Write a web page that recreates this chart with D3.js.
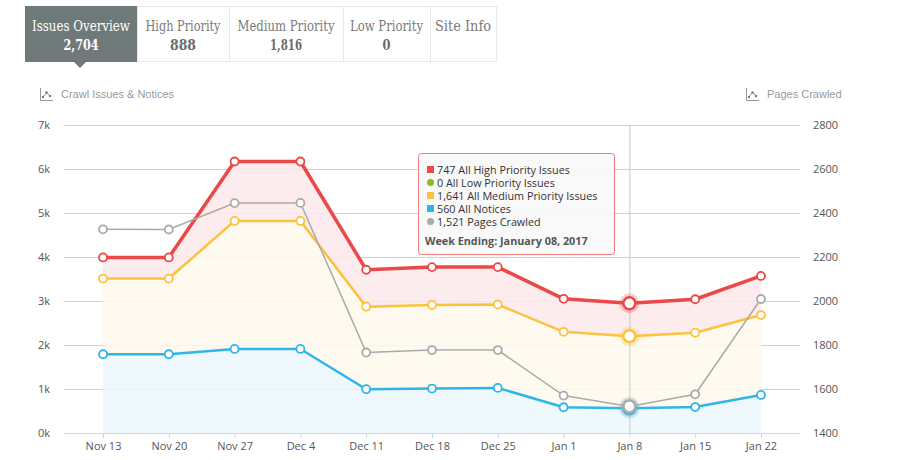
<!DOCTYPE html>
<meta charset="utf-8">
<script src="https://d3js.org/d3.v7.min.js"></script>
<style>
  body { margin: 0; background: #fff; }
  svg text { font-family: "Open Sans", sans-serif; }
</style>
<div id="chart"></div>
<script>

// weekly categories
var weeks = ["Nov 13", "Nov 20", "Nov 27", "Dec 4", "Dec 11", "Dec 18", "Dec 25", "Jan 1", "Jan 8", "Jan 15", "Jan 22"];

// stacked series
var notices = [1790, 1790, 1910, 1910, 995, 1010, 1025, 585, 560, 590, 865];
var medium  = [1720, 1720, 2910, 2910, 1875, 1900, 1895, 1715, 1641, 1690, 1816];
var low     = [0, 0, 0, 0, 0, 0, 0, 0, 0, 0, 0];
var high    = [480, 480, 1350, 1350, 840, 860, 850, 750, 747, 760, 888];

// right axis series
var pages = [2326, 2325, 2445, 2446, 1766, 1777, 1777, 1570, 1521, 1576, 2009];

var leftTicks = [0, 1000, 2000, 3000, 4000, 5000, 6000, 7000];
var rightTicks = [1400, 1600, 1800, 2000, 2200, 2400, 2600, 2800];

var tabNames = ["Issues Overview", "High Priority", "Medium Priority", "Low Priority", "Site Info"];
var hoverIndex = 8;
var hoverLabel = "Week Ending: January 08, 2017";

var width = 900, height = 460;
var svg = d3.select("#chart").append("svg")
  .attr("width", width).attr("height", height);

var fmt = d3.format(",");
var last = weeks.length - 1;

// ---- tabs ----
var tabEdges = [25, 137, 229, 343, 430, 496];
var tabValues = [high[last] + medium[last] + low[last], high[last], medium[last], low[last], null];
var slab = "'DejaVu Serif', serif";

// squeeze a text into a width if it is wider than that
function fit(sel, w) {
  var n = sel.node();
  if (n.getComputedTextLength() > w) {
    sel.attr("textLength", w).attr("lengthAdjust", "spacingAndGlyphs");
  }
}
var titleW = [98, 75, 97, 73, 56];
var numW = [35, 26, 32, 8];

var tabs = svg.append("g");
tabNames.forEach(function(name, i) {
  var x0 = tabEdges[i], x1 = tabEdges[i + 1], cx = (x0 + x1) / 2;
  var active = i === 0;
  tabs.append("rect")
    .attr("x", x0 + 0.5).attr("y", 6.5)
    .attr("width", x1 - x0).attr("height", 55)
    .attr("fill", active ? "#6f7979" : "#fff")
    .attr("stroke", active ? "#6f7979" : "#e6e9ea");
  var t = tabs.append("text")
    .attr("x", cx).attr("y", 30.5)
    .attr("text-anchor", "middle")
    .style("font-family", slab)
    .style("font-size", "15px")
    .attr("fill", active ? "#fff" : "#7a7a7a")
    .text(name);
  fit(t, titleW[i]);
  if (tabValues[i] !== null) {
    var v = tabs.append("text")
      .attr("x", cx).attr("y", 49.5)
      .attr("text-anchor", "middle")
      .style("font-family", slab)
      .style("font-weight", "bold")
      .style("font-size", "15px")
      .attr("fill", active ? "#fff" : "#6b6b6b")
      .text(fmt(tabValues[i]));
    fit(v, numW[i]);
  }
});
tabs.append("path")
  .attr("d", "M73,61 L87,61 L80,68 Z")
  .attr("fill", "#6f7979");

// ---- axis titles with small chart icons ----
function icon(x, y) {
  var g = svg.append("g").attr("transform", "translate(" + x + "," + y + ")");
  g.append("path").attr("d", "M0.5,0 V12.5 H13").attr("fill", "none").attr("stroke", "#999");
  g.append("path").attr("d", "M3,9 L6.5,4.5 L10,8").attr("fill", "none").attr("stroke", "#999").attr("stroke-width", 1);
  g.selectAll("circle").data([[3, 9], [6.5, 4.5], [10, 8]]).join("circle")
    .attr("cx", function(d) { return d[0]; }).attr("cy", function(d) { return d[1]; })
    .attr("r", 1.2).attr("fill", "#777");
}
icon(40, 88);
svg.append("text").attr("x", 61).attr("y", 98)
  .style("font-family", "'Liberation Sans', Arial, sans-serif")
  .style("font-size", "11px").attr("fill", "#9a9a9a")
  .text("Crawl Issues & Notices");
icon(746, 88);
svg.append("text").attr("x", 767).attr("y", 98)
  .style("font-family", "'Liberation Sans', Arial, sans-serif")
  .style("font-size", "11px").attr("fill", "#9a9a9a")
  .text("Pages Crawled");

// ---- scales ----
var x = d3.scalePoint().domain(weeks).range([64, 800]).padding(0.593);
var y = d3.scaleLinear().domain([0, 7000]).range([433, 125]);
var y2 = d3.scaleLinear().domain([1400, 2800]).range([433, 125]);

// ---- grid + axes ----
svg.append("g")
  .attr("transform", "translate(64,0)")
  .call(d3.axisRight(y).tickValues(leftTicks.slice(1)).tickSize(736).tickFormat(""))
  .call(function(g) {
    g.select(".domain").remove();
    g.selectAll("line").attr("stroke", "#d0d0d0");
  });

svg.append("g")
  .attr("transform", "translate(52,0)")
  .call(d3.axisLeft(y).tickValues(leftTicks).tickSize(0).tickPadding(2)
    .tickFormat(function(d) { return (d / 1000) + "k"; }))
  .call(function(g) {
    g.select(".domain").remove();
    g.selectAll("text").style("font-size", "11px").attr("fill", "#555");
  });

svg.append("g")
  .attr("transform", "translate(811,0)")
  .call(d3.axisRight(y2).tickValues(rightTicks).tickSize(0).tickPadding(2).tickFormat(d3.format("d")))
  .call(function(g) {
    g.select(".domain").remove();
    g.selectAll("text").style("font-size", "11px").attr("fill", "#555");
  });

svg.append("g")
  .attr("transform", "translate(0,433)")
  .call(d3.axisBottom(x).tickSize(5).tickPadding(4).tickSizeOuter(0))
  .call(function(g) {
    g.select(".domain").attr("d", "M64,0.5H800").attr("stroke", "#ccd6eb");
    g.selectAll(".tick line").attr("stroke", "#ccd6eb");
    g.selectAll("text").style("font-size", "11px").attr("fill", "#555");
  });

// ---- stacked areas ----
var rows = weeks.map(function(w, i) {
  return { week: w, notices: notices[i], medium: medium[i], low: low[i], high: high[i] };
});
var stack = d3.stack().keys(["notices", "medium", "low", "high"]);
var layers = stack(rows);

var colors = { notices: "#2fb5e9", medium: "#fcc23e", low: "#8bbc21", high: "#ec4848" };
var fills = { notices: "#ecf7fd", medium: "#fef9ec", low: "none", high: "#fde9ea" };
var widths = { notices: 2.5, medium: 2.5, low: 0, high: 3.5 };

var area = d3.area()
  .x(function(d) { return x(d.data.week); })
  .y0(function(d) { return y(d[0]); })
  .y1(function(d) { return y(d[1]); });
var line = d3.line()
  .x(function(d) { return x(d.data.week); })
  .y(function(d) { return y(d[1]); });

svg.append("g").selectAll("path")
  .data(layers.filter(function(l) { return l.key !== "low"; }))
  .join("path")
  .attr("d", area)
  .attr("fill", function(l) { return fills[l.key]; })
  .attr("fill-opacity", 0.85);

// crosshair
svg.append("line")
  .attr("x1", x(weeks[hoverIndex]) + 0.5).attr("x2", x(weeks[hoverIndex]) + 0.5)
  .attr("y1", 125).attr("y2", 433)
  .attr("stroke", "#c8c8c8").attr("stroke-width", 1);

function markers(g, pts, color, r) {
  g.selectAll("circle.m")
    .data(pts)
    .join("circle")
    .attr("class", "m")
    .attr("cx", function(d) { return d[0]; })
    .attr("cy", function(d) { return d[1]; })
    .attr("r", function(d, i) { return i === hoverIndex ? r + 2 : r; })
    .attr("fill", "#fff")
    .attr("stroke", color)
    .attr("stroke-width", function(d, i) { return i === hoverIndex ? 2.5 : 1.8; });
}
function halo(g, pt, color) {
  g.append("circle").attr("cx", pt[0]).attr("cy", pt[1]).attr("r", 10)
    .attr("fill", color).attr("fill-opacity", 0.25);
}

["high", "medium", "notices"].forEach(function(key) {
  var l = layers.find(function(s) { return s.key === key; });
  var g = svg.append("g");
  g.append("path").attr("d", line(l))
    .attr("fill", "none").attr("stroke", colors[key])
    .attr("stroke-width", widths[key]).attr("stroke-linejoin", "round");
  var pts = l.map(function(d) { return [x(d.data.week), y(d[1])]; });
  halo(g, pts[hoverIndex], colors[key]);
  markers(g, pts, colors[key], 4);
});

// pages crawled (right axis)
var gp = svg.append("g");
var pagePts = pages.map(function(v, i) { return [x(weeks[i]), y2(v)]; });
gp.append("path").attr("d", d3.line()(pagePts))
  .attr("fill", "none").attr("stroke", "#aaaaaa").attr("stroke-width", 1.5);
halo(gp, pagePts[hoverIndex], "#aaaaaa");
markers(gp, pagePts, "#aaaaaa", 4);

// ---- tooltip ----
var tip = svg.append("g").attr("transform", "translate(418,153)");
tip.append("rect")
  .attr("x", 1.5).attr("y", 1.5).attr("width", 196).attr("height", 101).attr("rx", 3)
  .attr("fill", "#000").attr("fill-opacity", 0.06);
tip.append("rect")
  .attr("x", 0.5).attr("y", 0.5).attr("width", 196).attr("height", 101).attr("rx", 3)
  .attr("fill", "#f9f9f9").attr("fill-opacity", 0.95)
  .attr("stroke", "#f07f7f").attr("stroke-width", 1);

var tipRows = [
  { shape: "square", color: colors.high, text: fmt(high[hoverIndex]) + " All High Priority Issues" },
  { shape: "circle", color: colors.low, text: fmt(low[hoverIndex]) + " All Low Priority Issues" },
  { shape: "square", color: colors.medium, text: fmt(medium[hoverIndex]) + " All Medium Priority Issues" },
  { shape: "square", color: colors.notices, text: fmt(notices[hoverIndex]) + " All Notices" },
  { shape: "circle", color: "#aaaaaa", text: fmt(pages[hoverIndex]) + " Pages Crawled" }
];
tipRows.forEach(function(r, i) {
  var cy = 16.5 + i * 13;
  if (r.shape === "square") {
    tip.append("rect").attr("x", 9).attr("y", cy - 3.5).attr("width", 7).attr("height", 7).attr("fill", r.color);
  } else {
    tip.append("circle").attr("cx", 12.5).attr("cy", cy).attr("r", 3.5).attr("fill", r.color);
  }
  tip.append("text").attr("x", 19).attr("y", cy + 4)
    .style("font-size", "10.8px").attr("fill", "#333")
    .text(r.text);
});
tip.append("text").attr("x", 7).attr("y", 92)
  .style("font-size", "10.8px").style("font-weight", "bold").attr("fill", "#555")
  .text(hoverLabel);

</script>
